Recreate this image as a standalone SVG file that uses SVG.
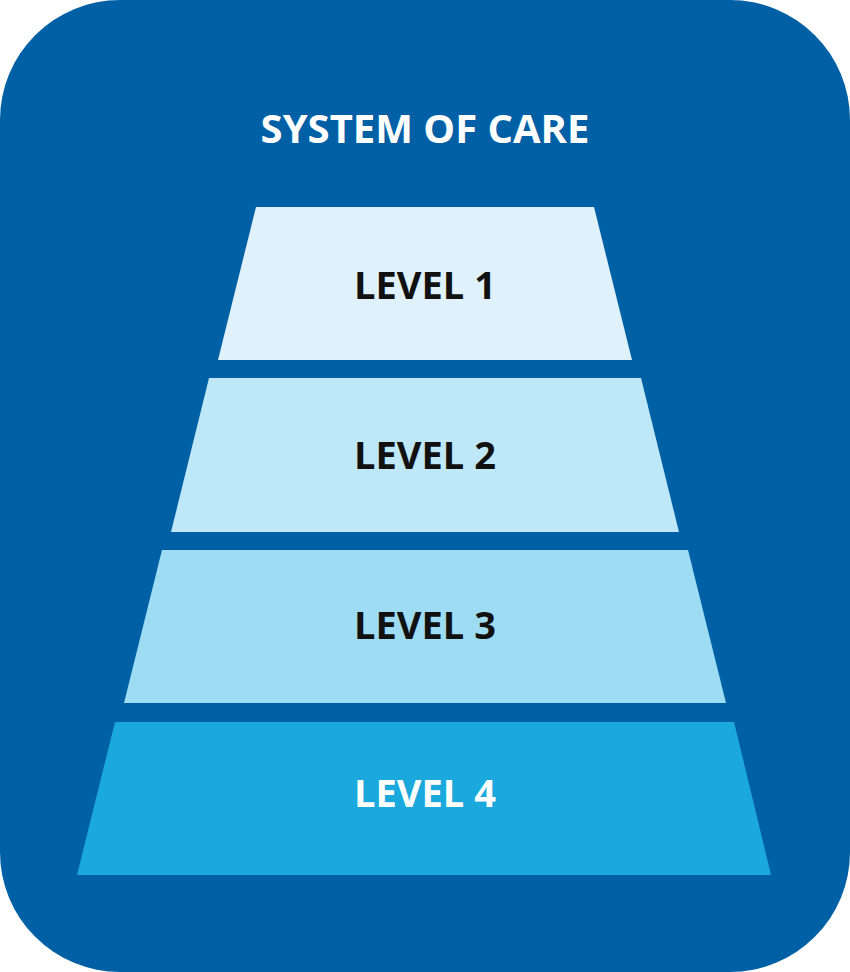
<svg xmlns="http://www.w3.org/2000/svg" width="850" height="972" viewBox="0 0 850 972">
<style>
.t{font-family:"Open Sans","Liberation Sans",sans-serif;font-weight:bold;text-anchor:middle;dominant-baseline:central}
.l{font-size:38px;fill:#111}
</style>
<rect x="0" y="0" width="850" height="972" rx="120" fill="#0060A6"/>
<text class="t" x="425" y="127" font-size="40" fill="#fff">SYSTEM OF CARE</text>
<g id="level1"><polygon points="256,207 594,207 632,360 218,360" fill="#DFF2FB"/><text class="t l" x="425" y="284">LEVEL 1</text></g>
<g id="level2"><polygon points="209,378 641,378 679,532 171,532" fill="#BEE7F7"/><text class="t l" x="425" y="454">LEVEL 2</text></g>
<g id="level3"><polygon points="162,550 688,550 726,703 124,703" fill="#9DDCF3"/><text class="t l" x="425" y="624">LEVEL 3</text></g>
<g id="level4"><polygon points="115,722 734,722 771,875 77,875" fill="#1BA8DC"/><text class="t l" x="425" y="792" style="fill:#fff">LEVEL 4</text></g>
<g id="connectors"/>
</svg>
